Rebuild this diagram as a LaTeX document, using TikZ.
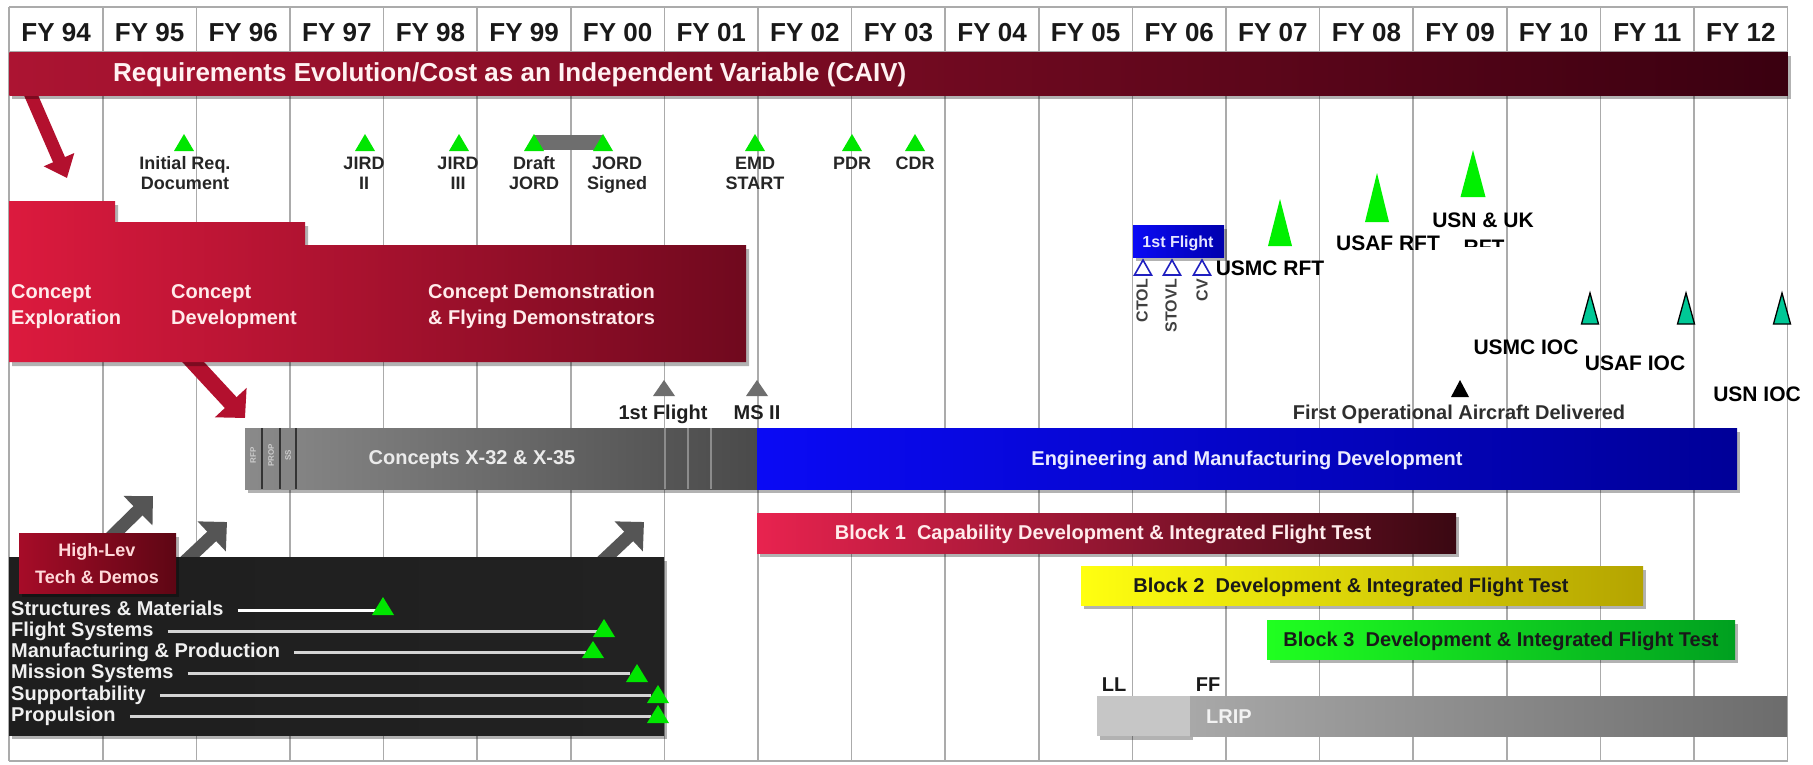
\documentclass[tikz,border=0pt]{standalone}
\usepackage{fontspec}
\setmainfont{Liberation Sans}
\usetikzlibrary{arrows.meta,shadows}
\definecolor{gridc}{HTML}{ABABAB}
\definecolor{banL}{HTML}{AC1432}
\definecolor{banM}{HTML}{780A20}
\definecolor{banR}{HTML}{3A0010}
\definecolor{conL}{HTML}{DC1A3E}
\definecolor{conM}{HTML}{C0143A}
\definecolor{conR}{HTML}{70091E}
\definecolor{hlL}{HTML}{A60C28}
\definecolor{hlR}{HTML}{5E0614}
\definecolor{bOneL}{HTML}{E8234F}
\definecolor{bOneM}{HTML}{C0164A}
\definecolor{bOneR}{HTML}{3A0812}
\definecolor{yelL}{HTML}{FFFF10}
\definecolor{yelM}{HTML}{F0E800}
\definecolor{yelR}{HTML}{B4A400}
\definecolor{grnL}{HTML}{20FF20}
\definecolor{grnM}{HTML}{00E000}
\definecolor{grnR}{HTML}{00A020}
\definecolor{bluL}{HTML}{0A0AF5}
\definecolor{bluM}{HTML}{0000E0}
\definecolor{bluR}{HTML}{000098}
\definecolor{gryL}{HTML}{8A8A8A}
\definecolor{gryR}{HTML}{4A4A4A}
\definecolor{lripL}{HTML}{A8A8A8}
\definecolor{lripR}{HTML}{6C6C6C}
\definecolor{lripLight}{HTML}{C6C6C6}
\definecolor{techL}{HTML}{1E1E1E}
\definecolor{techM}{HTML}{4E4E4E}
\definecolor{techR}{HTML}{222222}
\definecolor{arrowred}{HTML}{B3102E}
\definecolor{arrowdark}{HTML}{555555}
\definecolor{msgreen}{HTML}{00E600}
\definecolor{rftgreen}{HTML}{00F000}
\definecolor{iocteal}{HTML}{00C896}
\definecolor{msgray}{HTML}{6E6E6E}
\definecolor{lineg}{HTML}{D4D4D4}
\definecolor{flblue}{HTML}{2020C0}
\newcommand{\mtri}[5]{\path[#5] ({#1-#4},#3) -- (#1,#2) -- ({#1+#4},#3) -- cycle;}
\begin{document}
\begin{tikzpicture}[x=1pt,y=-1pt,
  gridline/.style={draw=gridc, line width=1.6pt},
  fy/.style={font=\fontsize{26}{28}\selectfont\bfseries, text=black!90, inner sep=0pt, anchor=base},
  shd/.style={drop shadow={shadow xshift=3pt, shadow yshift=-4pt, opacity=0.3, fill=black}},
  bar/.style={rectangle, inner sep=0pt, anchor=north west},
  bartext/.style={font=\fontsize{20}{24}\selectfont\bfseries, inner sep=0pt, anchor=base},
  conctext/.style={font=\fontsize{20}{26}\selectfont\bfseries, text=white!92!red, inner sep=0pt, align=left, anchor=north west},
  mslab/.style={font=\fontsize{18}{20}\selectfont\bfseries, align=center, inner sep=0pt, text=black!85, anchor=north},
  biglab/.style={font=\fontsize{21}{24}\selectfont\bfseries, inner sep=0pt, text=black, anchor=base},
  midlab/.style={font=\fontsize{20}{24}\selectfont\bfseries, inner sep=0pt, text=black!85, anchor=base},
  techlab/.style={font=\fontsize{20}{22}\selectfont\bfseries, text=white!94!black, inner sep=0pt, anchor=west, text height=14pt, text depth=4pt},
  techline/.style={draw=lineg, line width=3pt},
  rotlab/.style={font=\fontsize{16}{18}\selectfont\bfseries, text=black!75, inner sep=0pt, rotate=90, anchor=east},
  tinylab/.style={font=\fontsize{8}{9}\selectfont\bfseries, text=white!80!black, inner sep=0pt, rotate=90},
  redarrow/.style={draw=arrowred, line width=#1},
  darkarrow/.style={draw=arrowdark, line width=13pt, -{Triangle[length=21pt,width=40pt]}},
  msgtri/.style={fill=msgreen},
  rfttri/.style={fill=rftgreen},
  ioctri/.style={fill=iocteal, draw=black, line width=1.3pt, line join=miter},
  flytri/.style={fill=white, draw=flblue, line width=1.6pt},
]
\useasboundingbox[fill=white] (0,0) rectangle (1813,764);

% grid
\foreach \i in {0,...,19} \draw[gridline] ({9.25+93.6*\i},7) -- ({9.25+93.6*\i},761);
\draw[gridline] (9.25,7) -- (1787.65,7);
\draw[gridline] (9.25,761) -- (1787.65,761);
\draw[gridline] (9.25,52) -- (1787.65,52);

% FY headers
\foreach \lab [count=\i from 0] in {94,95,96,97,98,99,00,01,02,03,04,05,06,07,08,09,10,11,12}
  \node[fy] (fy\lab) at ({9.25+93.6*(\i+0.5)},41.5) {FY \lab};

% red arrow from banner
\coordinate (ra1s) at (27,86);
\coordinate (ra1e) at (67,178);
\draw[redarrow=13pt, -{Triangle[length=20pt,width=32pt]}] (ra1s) -- (ra1e);

% banner
\node[bar, shd, left color=banL, middle color=banM, right color=banR,
      minimum width=1778.4pt, minimum height=43pt] (req) at (9.25,52) {};
\node[font=\fontsize{26}{28}\selectfont\bfseries, text=white!95!red, inner sep=0pt, anchor=base west]
  (reqtxt) at (113,81.3) {Requirements Evolution/Cost as an Independent Variable (CAIV)};

% milestone row
\path[fill=msgray] (534,135) rectangle (603,150);
\foreach \xx in {184,365,459,534,603,755,852,915} {\mtri{\xx}{134}{151}{10}{msgtri}}
\node[mslab] (ird) at (185,156.5) {Initial Req.\\Document};
\node[mslab] (jird2) at (364,156.5) {JIRD\\II};
\node[mslab] (jird3) at (458,156.5) {JIRD\\III};
\node[mslab] (djord) at (534,156.5) {Draft\\JORD};
\node[mslab] (sjord) at (617,156.5) {JORD\\Signed};
\node[mslab] (emds) at (755,156.5) {EMD\\START};
\node[mslab] (pdr) at (852,156.5) {PDR};
\node[mslab] (cdr) at (915,156.5) {CDR};

% second red arrow (under concept block)
\coordinate (ra2s) at (182,350);
\coordinate (ra2e) at (245,418);
\draw[redarrow=16pt, -{Triangle[length=21pt,width=42pt]}] (ra2s) -- (ra2e);

% concept block
\path[shd, left color=conL, middle color=conM, right color=conR]
  (9,201) -- (115,201) -- (115,222) -- (305,222) -- (305,245) -- (746,245) -- (746,362) -- (9,362) -- cycle;
\node[conctext] (cexp) at (11,284) {Concept\\Exploration};
\node[conctext] (cdev) at (171,284) {Concept\\Development};
\node[conctext] (cdemo) at (428,284) {Concept Demonstration\\\& Flying Demonstrators};

% 1st flight / MS II markers
\mtri{664}{380}{396}{11}{fill=msgray}
\mtri{757}{380}{396}{11}{fill=msgray}
\node[midlab, text=black!88] (ff1) at (663,419) {1st Flight};
\node[midlab, text=black!88] (ms2) at (757,419) {MS II};

% concepts bar
\node[bar, shd, left color=gryL, right color=gryR, minimum width=512pt, minimum height=61pt] (concepts) at (245,428) {};
\foreach \xx in {262,280,296} \draw[black!80, line width=2pt] (\xx,428) -- (\xx,489);
\foreach \xx in {665,688,711} \draw[white!55!black, line width=1.5pt] (\xx,428) -- (\xx,489);
\node[tinylab] (rfp) at (253,455) {RFP};
\node[tinylab] (prop) at (271,455) {PROP};
\node[tinylab] (ss) at (288,455) {SS};
\node[bartext, text=white!92!black] (conctxt) at (472,464.2) {Concepts X-32 \& X-35};

% EMD bar
\node[bar, shd, left color=bluL, middle color=bluM, right color=bluR, minimum width=980pt, minimum height=61pt] (emd) at (757,428) {};
\node[bartext, text=white!92!blue] (emdtxt) at (1247,465.2) {Engineering and Manufacturing Development};

% blocks
\node[bar, shd, left color=bOneL, middle color=bOneM, right color=bOneR, minimum width=699pt, minimum height=40pt] (b1) at (757,513) {};
\node[bartext, text=white!92!red] (b1txt) at (1103,539) {Block 1\ \ Capability Development \& Integrated Flight Test};
\node[bar, shd, left color=yelL, middle color=yelM, right color=yelR, minimum width=562pt, minimum height=39pt] (b2) at (1081,566) {};
\node[bartext, text=black!90] (b2txt) at (1351,592) {Block 2\ \ Development \& Integrated Flight Test};
\node[bar, shd, left color=grnL, middle color=grnM, right color=grnR, minimum width=468pt, minimum height=39pt] (b3) at (1267,620) {};
\node[bartext, text=black!90] (b3txt) at (1501,646) {Block 3\ \ Development \& Integrated Flight Test};

% LRIP
\node[bar, shd, fill=lripLight, minimum width=93pt, minimum height=40pt] (ll) at (1097,696) {};
\node[bar, left color=lripL, right color=lripR, minimum width=597pt, minimum height=40pt] (lrip) at (1190,696) {};
\node[bartext, text=white!95!black] (lriptxt) at (1229,723) {LRIP};
\node[midlab, text=black!90] (lltxt) at (1114,691) {LL};
\node[midlab, text=black!90] (fftxt) at (1208,691) {FF};

% dark arrows (under tech box)
\coordinate (da1s) at (100,548);
\coordinate (da1e) at (153,496);
\coordinate (da2s) at (176,570);
\coordinate (da2e) at (227,522);
\coordinate (da3s) at (593,570);
\coordinate (da3e) at (644,522);
\draw[darkarrow] (da1s) -- (da1e);
\draw[darkarrow] (da2s) -- (da2e);
\draw[darkarrow] (da3s) -- (da3e);

% tech box
\node[bar, shd, left color=techL, middle color=techM, right color=techR, minimum width=655pt, minimum height=178pt] (tech) at (9,557) {};
\node[bar, shd, left color=hlL, right color=hlR, minimum width=157pt, minimum height=60pt] (hl) at (19,533) {};
\node[font=\fontsize{18}{27}\selectfont\bfseries, text=white!85!red, align=center, inner sep=0pt, anchor=north] (hltxt) at (97,543.6) {High-Lev\\Tech \& Demos};

\node[techlab] (t1) at (11,610) {Structures \& Materials};
\node[techlab] (t2) at (11,631) {Flight Systems};
\node[techlab] (t3) at (11,652) {Manufacturing \& Production};
\node[techlab] (t4) at (11,673) {Mission Systems};
\node[techlab] (t5) at (11,695) {Supportability};
\node[techlab] (t6) at (11,716) {Propulsion};
\coordinate (e1) at (376,610);
\coordinate (e2) at (597,631);
\coordinate (e3) at (586,652);
\coordinate (e4) at (630,673);
\coordinate (e5) at (651,695);
\coordinate (e6) at (651,716);
\draw[techline, draw=white] ([xshift=14pt]t1.east) -- (e1);
\draw[techline] ([xshift=14pt]t2.east) -- (e2);
\draw[techline] ([xshift=14pt]t3.east) -- (e3);
\draw[techline] ([xshift=14pt]t4.east) -- (e4);
\draw[techline] ([xshift=14pt]t5.east) -- (e5);
\draw[techline] ([xshift=14pt]t6.east) -- (e6);
\mtri{383}{597}{615}{11}{msgtri}
\mtri{604}{619}{637}{11}{msgtri}
\mtri{593}{641}{658}{11}{msgtri}
\mtri{637}{664}{682}{11}{msgtri}
\mtri{658}{685}{703}{11}{msgtri}
\mtri{658}{705}{723}{11}{msgtri}

% 1st flight box and variants
\node[bar, shd, left color=bluL, right color=bluR!80!blue, minimum width=91pt, minimum height=32pt] (flbox) at (1133,225) {};
\node[font=\fontsize{16}{18}\selectfont\bfseries, text=white!90!blue, inner sep=0pt, anchor=base] (fltxt) at (1178,247.7) {1st Flight};
\mtri{1143}{260}{275}{8.5}{flytri}
\mtri{1172}{260}{275}{8.5}{flytri}
\mtri{1202}{260}{275}{8.5}{flytri}
\node[rotlab] (ctol) at (1142,279) {CTOL};
\node[rotlab] (stovl) at (1171,279) {STOVL};
\node[rotlab] (cv) at (1202,279) {CV};

% RFT markers
\mtri{1280}{199}{246}{12}{rfttri}
\mtri{1377}{173}{222}{12}{rfttri}
\mtri{1473}{150}{197}{12.5}{rfttri}
\node[biglab] (usmcrft) at (1270,275.5) {USMC RFT};
\node[biglab] (usafrft) at (1388,250.5) {USAF RFT};
\node[biglab] (usnuk) at (1483,227.5) {USN \& UK};
\begin{scope}
  \clip (1440,230) rectangle (1530,246.5);
  \node[biglab] (usnrft) at (1484,254) {RFT};
\end{scope}

% IOC markers
\mtri{1590}{293}{324}{8.5}{ioctri}
\mtri{1686}{293}{324}{8.5}{ioctri}
\mtri{1782}{293}{324}{8.5}{ioctri}
\node[biglab] (usmcioc) at (1526,354.5) {USMC IOC};
\node[biglab] (usafioc) at (1635,370.5) {USAF IOC};
\node[biglab] (usnioc) at (1757,401.5) {USN IOC};

% first operational aircraft
\mtri{1460}{380}{397}{9}{fill=black}
\node[midlab, text=black!82] (foad) at (1459,419) {First Operational Aircraft Delivered};
\end{tikzpicture}
\end{document}
